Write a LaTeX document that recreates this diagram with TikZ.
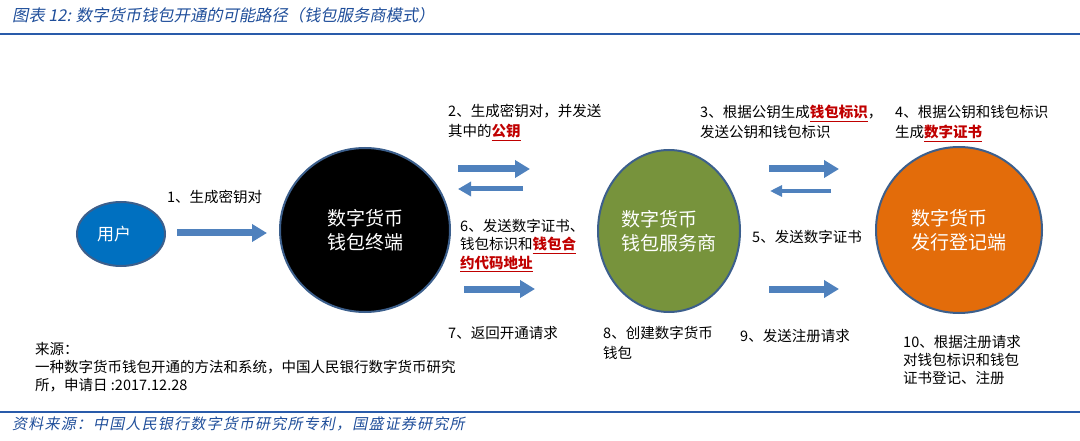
\documentclass[tikz,border=0pt]{standalone}
\usepackage{fontspec}
\setmainfont{Noto Sans CJK SC}
\newfontfamily\capfont[FakeSlant=0.2]{Noto Sans CJK SC}
\newfontfamily\srcfont[FakeSlant=0.2,LetterSpace=8]{Noto Sans CJK SC}
\usepackage{tikz}
\usetikzlibrary{arrows.meta,positioning,shapes.geometric}
\definecolor{capblue}{RGB}{31,78,154}
\definecolor{ruleblue}{RGB}{41,91,170}
\definecolor{arrowblue}{RGB}{79,129,189}
\definecolor{rimblue}{RGB}{60,95,140}
\definecolor{userblue}{RGB}{0,112,192}
\definecolor{provgreen}{RGB}{119,147,60}
\definecolor{issorange}{RGB}{227,108,10}
\definecolor{keyred}{RGB}{192,0,0}
\newcommand{\Kterm}[1]{\textcolor{keyred}{\bfseries\underline{#1}}}
\tikzset{
  party/.style={ellipse,draw=rimblue,line width=2pt,text=white,align=left,inner sep=0pt,
    font=\fontsize{19}{24}\selectfont},
  lbl/.style={anchor=base west,align=left,inner sep=0pt,text=black,
    font=\fontsize{14.5}{20}\selectfont},
  lbltight/.style={lbl,font=\fontsize{14.5}{18}\selectfont},
  blockarrow/.style={-{Triangle[length=15pt,width=17pt]},line width=7pt,arrowblue},
  backarrow/.style={-{Triangle[length=13pt,width=14pt]},line width=5pt,arrowblue},
  thinarrow/.style={-{Triangle[length=12pt,width=11pt]},line width=3.5pt,arrowblue}
}

\begin{document}
\begin{tikzpicture}[x=1pt,y=-1pt]
\useasboundingbox (0,0) rectangle (1080,441);
% caption, rules and source line
\node (cap) [anchor=base west,inner sep=0pt,text=capblue,font=\capfont\fontsize{16.3}{18}\selectfont]
  at (12,22) {图表 12: 数字货币钱包开通的可能路径（钱包服务商模式）};
\draw[ruleblue,line width=2.2pt] (0,34) -- (1080,34);
\draw[ruleblue,line width=1.2pt] (0,412) -- (1080,412);
\node (src) [anchor=base west,inner sep=0pt,text=capblue,font=\srcfont\fontsize{15}{18}\selectfont]
  at (12,429) {资料来源：中国人民银行数字货币研究所专利，国盛证券研究所};
%
\node (user) [party,fill=userblue,minimum width=88pt,minimum height=64pt,
  font=\fontsize{17}{20}\selectfont] at (121,234) {用户\hspace{14pt}};
\node (term) [party,fill=black,minimum width=170pt,minimum height=164pt] at (365,230) {数字货币\\钱包终端};
\node (prov) [party,fill=provgreen,minimum width=142pt,minimum height=162pt] at (669,231) {数字货币\\钱包服务商};
\node (iss) [party,fill=issorange,minimum width=166pt,minimum height=166pt] at (959,230) {数字货币\\发行登记端};
%
\coordinate (s1a) at (177,233); \coordinate (s1b) at (267,233);
\coordinate (s2a) at (458,169); \coordinate (s2b) at (530,169);
\coordinate (s3a) at (523,189); \coordinate (s3b) at (458,189);
\coordinate (s6a) at (464,289); \coordinate (s6b) at (535,289);
\coordinate (s4a) at (769,169); \coordinate (s4b) at (839,169);
\coordinate (s5a) at (831,191); \coordinate (s5b) at (770,191);
\coordinate (s9a) at (769,289); \coordinate (s9b) at (839,289);
\draw[blockarrow] (s1a) -- (s1b);
\draw[blockarrow] (s2a) -- (s2b);
\draw[backarrow] (s3a) -- (s3b);
\draw[blockarrow] (s6a) -- (s6b);
\draw[blockarrow] (s4a) -- (s4b);
\draw[thinarrow] (s5a) -- (s5b);
\draw[blockarrow] (s9a) -- (s9b);
%
\node (l1) [lbl] at (167,203) {1、生成密钥对};
\node (l2) [lbl] at (448,137) {2、生成密钥对，并发送\\其中的\Kterm{公钥}};
\node (l3) [lbl] at (700,138) {3、根据公钥生成\Kterm{钱包标识}，\\发送公钥和钱包标识};
\node (l4) [lbl] at (895,138) {4、根据公钥和钱包标识\\生成\Kterm{数字证书}};
\node (l5) [lbl] at (752,242) {5、发送数字证书};
\node (l6) [lbltight] at (460,268) {6、发送数字证书、\\钱包标识和\Kterm{钱包合}\\\Kterm{约代码地址}};
\node (l7) [lbl] at (448,338) {7、返回开通请求};
\node (l8) [lbl] at (603,358) {8、创建数字货币\\钱包};
\node (l9) [lbl] at (740,341) {9、发送注册请求};
\node (l10) [lbltight] at (903,383) {10、根据注册请求\\对钱包标识和钱包\\证书登记、注册};
\node (orig) [lbltight] at (35,390) {来源：\\一种数字货币钱包开通的方法和系统，中国人民银行数字货币研究\\所，申请日 :2017.12.28};
\end{tikzpicture}
\end{document}
